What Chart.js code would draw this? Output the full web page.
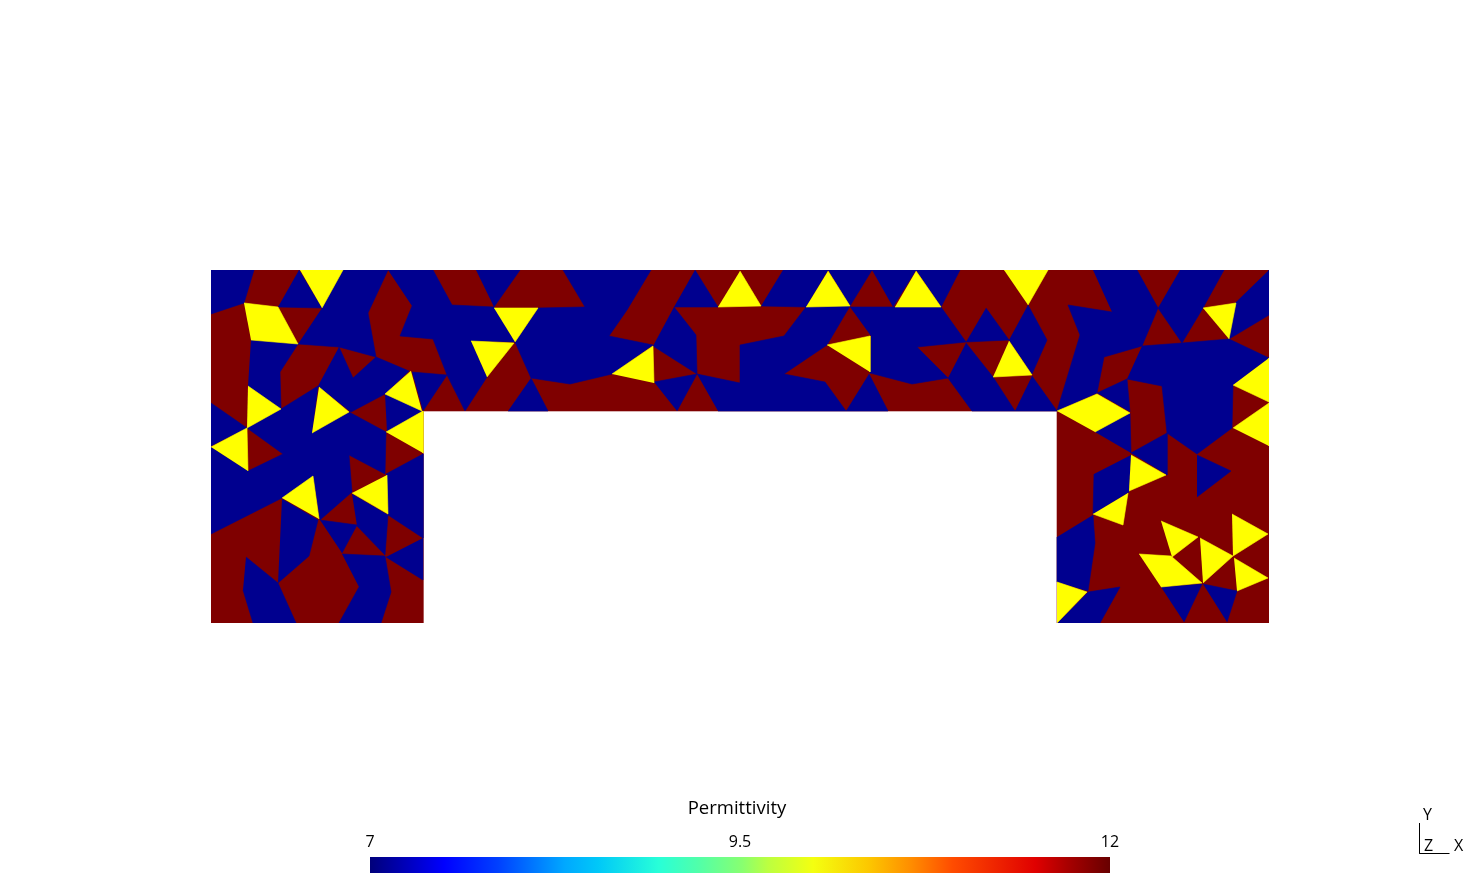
<!DOCTYPE html>
<html>
<head>
<meta charset="utf-8">
<title>Permittivity</title>
<script src="https://cdn.jsdelivr.net/npm/chart.js@4/dist/chart.umd.min.js"></script>
<style>
  html, body { margin: 0; padding: 0; background: #fff; overflow: hidden; }
  canvas { position: absolute; }
  #meshChart { left: 0; top: 0; }
  #barChart { left: 0; top: 790px; }
  #triadChart { left: 1400px; top: 800px; }
  .axisName { position: absolute; font: 16px 'Open Sans', sans-serif; color: #000; line-height: 20px; }
  #barName { position: absolute; left: 637px; width: 200px; top: 796px; text-align: center;
    font: 18.5px 'Open Sans', sans-serif; color: #000; line-height: 22px; }
</style>
</head>
<body>
<canvas id="meshChart" width="1480" height="893"></canvas>
<canvas id="barChart" width="1480" height="103"></canvas>
<canvas id="triadChart" width="80" height="70"></canvas>
<div id="barName"></div>
<span class="axisName" style="left:1423px;top:804px">Y</span>
<span class="axisName" style="left:1424px;top:835px">Z</span>
<span class="axisName" style="left:1454px;top:835px">X</span>
<script>
// mesh outline, the whole domain starts out as the 12 material
const domainOutline = [[211,270],[1269,270],[1269,623],[1057,623],[1057,411],[423,411],[423,623],[211,623]]

// cells with permittivity 7
const blueCells = [
  // left leg, top part
  [[211,270],[254,270],[244,303],[211,314]],
  [[299,270],[322,308],[278,307]],
  [[322,308],[343,270],[388,270],[368,313],[376,357],[339,347],[298,344]],
  [[251,340],[298,344],[280,372],[281,409],[248,386]],
  [[211,403],[247,428],[211,446]],
  [[339,347],[353,378],[376,357],[409,371],[385,394],[351,412],[319,387],[318,386]],
  [[385,394],[422,411],[387,432]],
  [[412,372],[447,375],[423,411]],
  // left leg, lower part
  [[211,447],[248,471],[283,454],[247,428],[281,409],[318,386],[312,433],[349,412],[386,432],[385,474],[349,455],[352,492],[320,520],[313,476],[282,498],[211,534]],
  [[386,474],[423,454],[423,538],[388,515]],
  [[386,557],[423,580],[423,538]],
  [[352,494],[388,515],[385,555],[357,526]],
  [[320,520],[357,525],[342,553]],
  [[342,554],[385,556],[391,592],[381,623],[339,623],[359,587]],
  [[282,499],[318,520],[309,556],[278,583]],
  [[246,557],[278,583],[296,623],[253,623],[243,590]],
  // top band
  [[388,270],[433,270],[452,305],[494,307],[515,342],[471,341],[487,377],[465,411],[447,375],[433,339],[400,336],[412,306]],
  [[476,270],[520,270],[494,307]],
  [[531,378],[548,411],[508,411]],
  [[538,308],[585,307],[563,270],[651,270],[627,310],[609,336],[653,345],[612,374],[570,384],[531,378],[515,342]],
  [[695,270],[718,307],[674,307]],
  [[674,307],[696,335],[697,374],[653,346]],
  [[654,382],[697,374],[677,411]],
  [[783,270],[828,270],[806,307],[761,306]],
  [[828,270],[872,270],[850,306]],
  [[872,270],[916,270],[893,307]],
  [[916,270],[960,270],[941,307]],
  [[697,374],[740,383],[740,345],[784,336],[806,307],[850,306],[827,345],[784,374],[825,382],[846,411],[718,411]],
  [[869,374],[888,411],[846,411]],
  [[850,307],[941,307],[966,342],[917,347],[948,378],[912,384],[870,373],[871,336]],
  [[966,343],[993,377],[1015,411],[972,411],[948,378]],
  [[986,308],[1009,340],[966,342]],
  [[1028,305],[1047,340],[1032,374],[1009,340]],
  [[1032,376],[1057,411],[1015,411]],
  // right leg, top part
  [[1093,270],[1137,270],[1158,308],[1142,346],[1104,357],[1097,393],[1057,411],[1080,335],[1068,305],[1112,312]],
  [[1180,270],[1224,270],[1203,308],[1182,343],[1158,308]],
  [[1269,270],[1269,315],[1229,339],[1235,303]],
  [[1142,346],[1182,343],[1229,339],[1269,358],[1233,385],[1232,428],[1197,454],[1167,433],[1162,386],[1127,379]],
  [[1097,393],[1127,379],[1130,412]],
  [[1095,432],[1130,413],[1131,453]],
  // right leg, lower part
  [[1131,453],[1167,433],[1167,475]],
  [[1131,455],[1129,492],[1093,514],[1094,474]],
  [[1197,455],[1231,471],[1197,497]],
  [[1093,515],[1095,543],[1088,591],[1057,582],[1057,537]],
  [[1088,592],[1120,587],[1100,623],[1057,623]],
  [[1161,587],[1202,584],[1184,622]],
  [[1203,584],[1237,591],[1227,622]]
]

// cells with the middle value
const yellowCells = [
  [[300,270],[343,270],[322,308]],
  [[244,303],[278,307],[298,344],[251,340]],
  [[248,386],[281,409],[247,428]],
  [[211,447],[247,428],[248,471]],
  [[319,387],[349,412],[312,433]],
  [[411,371],[385,394],[422,411]],
  [[386,432],[423,411],[423,453]],
  [[387,475],[388,514],[352,493]],
  [[282,498],[313,476],[319,519]],
  [[494,308],[538,308],[515,342]],
  [[471,341],[514,343],[487,377]],
  [[612,374],[653,346],[654,383]],
  [[740,271],[761,306],[718,307]],
  [[828,271],[850,306],[806,307]],
  [[916,271],[941,307],[895,307]],
  [[827,345],[870,336],[870,372]],
  [[1004,270],[1048,270],[1028,305]],
  [[1009,341],[1032,375],[993,377]],
  [[1203,308],[1236,303],[1229,339]],
  [[1269,358],[1269,402],[1233,385]],
  [[1233,428],[1269,403],[1269,446]],
  [[1057,411],[1097,394],[1130,413],[1095,432]],
  [[1131,455],[1166,475],[1129,491]],
  [[1128,493],[1123,525],[1093,514]],
  [[1057,582],[1087,592],[1057,623]],
  [[1161,521],[1198,537],[1172,557]],
  [[1200,538],[1233,556],[1203,583]],
  [[1139,554],[1171,556],[1202,583],[1161,587]],
  [[1232,514],[1268,534],[1233,556]],
  [[1234,558],[1268,578],[1237,591]]
]

// colour bar
const barTitle = 'Permittivity'
const barRange = [7, 12]
const barTicks = [7, 9.5, 12]
const jetStops = [0, 0.1, 0.173, 0.263, 0.308, 0.39, 0.443, 0.503, 0.538, 0.599, 0.673, 0.732, 0.787, 0.899, 0.943, 1]
const jetColors = ['#00007a', '#0000ff', '#0040ff', '#00a8ff', '#00c8f8', '#28ffd8', '#50ffaa', '#88ff70',
  '#bcff40', '#f4ff10', '#fcc800', '#ff8c00', '#ff4c00', '#e00000', '#a80000', '#680000']

// orientation triad
const triadX = [0, 0, 1]
const triadY = [1, 0, 0]

const lowColor = '#00008f'
const midColor = '#ffff00'
const highColor = '#7f0000'

function cellDataset(cell, color) {
  return {
    data: cell.map((p) => ({ x: p[0], y: p[1] })),
    showLine: true,
    fill: 'shape',
    backgroundColor: color,
    borderColor: color,
    borderWidth: 0.6,
    pointRadius: 0,
  }
}

const plainOptions = {
  responsive: false,
  animation: false,
  events: [],
  plugins: { legend: { display: false }, tooltip: { enabled: false } },
}

document.getElementById('barName').textContent = barTitle

///////////////////////////////////////////////////////
// mesh
///////////////////////////////////////////////////////
// chart.js paints the first dataset last, so yellow goes first
new Chart(document.getElementById('meshChart'), {
  type: 'scatter',
  data: {
    datasets: [
      ...yellowCells.map((c) => cellDataset(c, midColor)),
      ...blueCells.map((c) => cellDataset(c, lowColor)),
      cellDataset(domainOutline, highColor),
    ],
  },
  options: {
    ...plainOptions,
    layout: { padding: { left: 211, right: 211, top: 270, bottom: 270 } },
    scales: {
      x: { type: 'linear', min: 211, max: 1269, display: false },
      y: { type: 'linear', min: 270, max: 623, reverse: true, display: false },
    },
  },
})

///////////////////////////////////////////////////////
// colour bar
///////////////////////////////////////////////////////
new Chart(document.getElementById('barChart'), {
  type: 'bar',
  data: {
    labels: [barTitle],
    datasets: [
      {
        data: [barRange],
        barPercentage: 1,
        categoryPercentage: 1,
        backgroundColor: (context) => {
          const area = context.chart.chartArea
          if (!area) return jetColors[0]
          const g = context.chart.ctx.createLinearGradient(area.left, 0, area.right, 0)
          jetStops.forEach((s, i) => g.addColorStop(s, jetColors[i]))
          return g
        },
      },
    ],
  },
  options: {
    ...plainOptions,
    indexAxis: 'y',
    layout: { padding: { left: 370, right: 370, top: 0, bottom: 20 } },
    scales: {
      x: {
        type: 'linear',
        position: 'top',
        min: barRange[0],
        max: barRange[1],
        afterBuildTicks: (axis) => {
          axis.ticks = barTicks.map((v) => ({ value: v }))
        },
        afterFit: (axis) => {
          axis.height = 67
        },
        grid: { display: false, drawTicks: false },
        border: { display: false },
        ticks: {
          color: '#000',
          padding: 5,
          maxRotation: 0,
          font: { family: 'Open Sans', size: 16 },
          callback: (v) => String(v),
        },
      },
      y: { display: false },
    },
  },
})

///////////////////////////////////////////////////////
// triad
///////////////////////////////////////////////////////
new Chart(document.getElementById('triadChart'), {
  type: 'scatter',
  data: {
    datasets: [
      {
        data: triadX.map((x, i) => ({ x: x, y: triadY[i] })),
        showLine: true,
        clip: false,
        borderColor: '#000',
        borderWidth: 1,
        pointRadius: 0,
      },
    ],
  },
  options: {
    ...plainOptions,
    layout: { padding: { left: 19.5, right: 30.5, top: 23, bottom: 16.5 } },
    scales: {
      x: { type: 'linear', min: 0, max: 1, display: false },
      y: { type: 'linear', min: 0, max: 1, display: false },
    },
  },
})
</script>
</body>
</html>
